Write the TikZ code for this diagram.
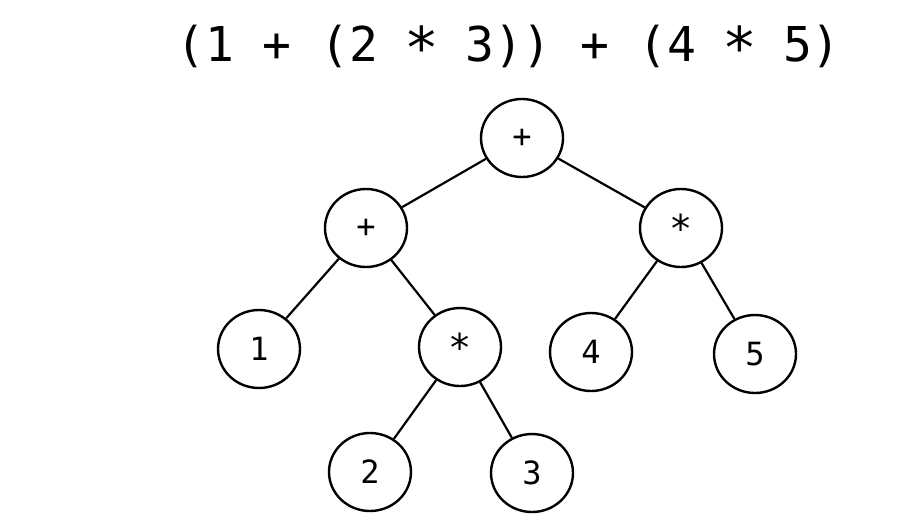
\documentclass[tikz,border=0pt]{standalone}
\usepackage{fontspec}
\setmonofont{DejaVu Sans Mono}
\usetikzlibrary{shapes,positioning}
\tikzstyle{treenode} = [draw, ellipse, line width=2.4pt, minimum width=82pt, minimum height=78pt, inner sep=0pt, font=\ttfamily\fontsize{32}{32}\selectfont]
\tikzstyle{branch} = [line width=2.2pt]
\tikzstyle{exprtitle} = [font=\ttfamily\fontsize{48}{48}\selectfont, anchor=base west, inner sep=0pt]
\newcommand{\mul}{\raisebox{-0.14em}{\makebox[0.602em]{\scalebox{1.2}{*}}}}

\begin{document}
\begin{tikzpicture}[x=1pt,y=-1pt]
\useasboundingbox (0,0) rectangle (909,527);
\node[exprtitle] (expr) at (176,62) {(1 + (2 \mul{} 3)) + (4 \mul{} 5)};
% the tree
\node[treenode] (root) at (522,138) {+};
\node[treenode] (sumL) at (366,228) {+};
\node[treenode] (mulR) at (681,228) {\mul};
\node[treenode] (one) at (259,349) {1};
\node[treenode] (mulL) at (460,347) {\mul};
\node[treenode] (four) at (591,352) {4};
\node[treenode] (five) at (755,354) {5};
\node[treenode] (two) at (370,472) {2};
\node[treenode] (three) at (532,473) {3};
\draw[branch] (root) -- (sumL);
\draw[branch] (root) -- (mulR);
\draw[branch] (sumL) -- (one);
\draw[branch] (sumL) -- (mulL);
\draw[branch] (mulL) -- (two);
\draw[branch] (mulL) -- (three);
\draw[branch] (mulR) -- (four);
\draw[branch] (mulR) -- (five);
\end{tikzpicture}
\end{document}
